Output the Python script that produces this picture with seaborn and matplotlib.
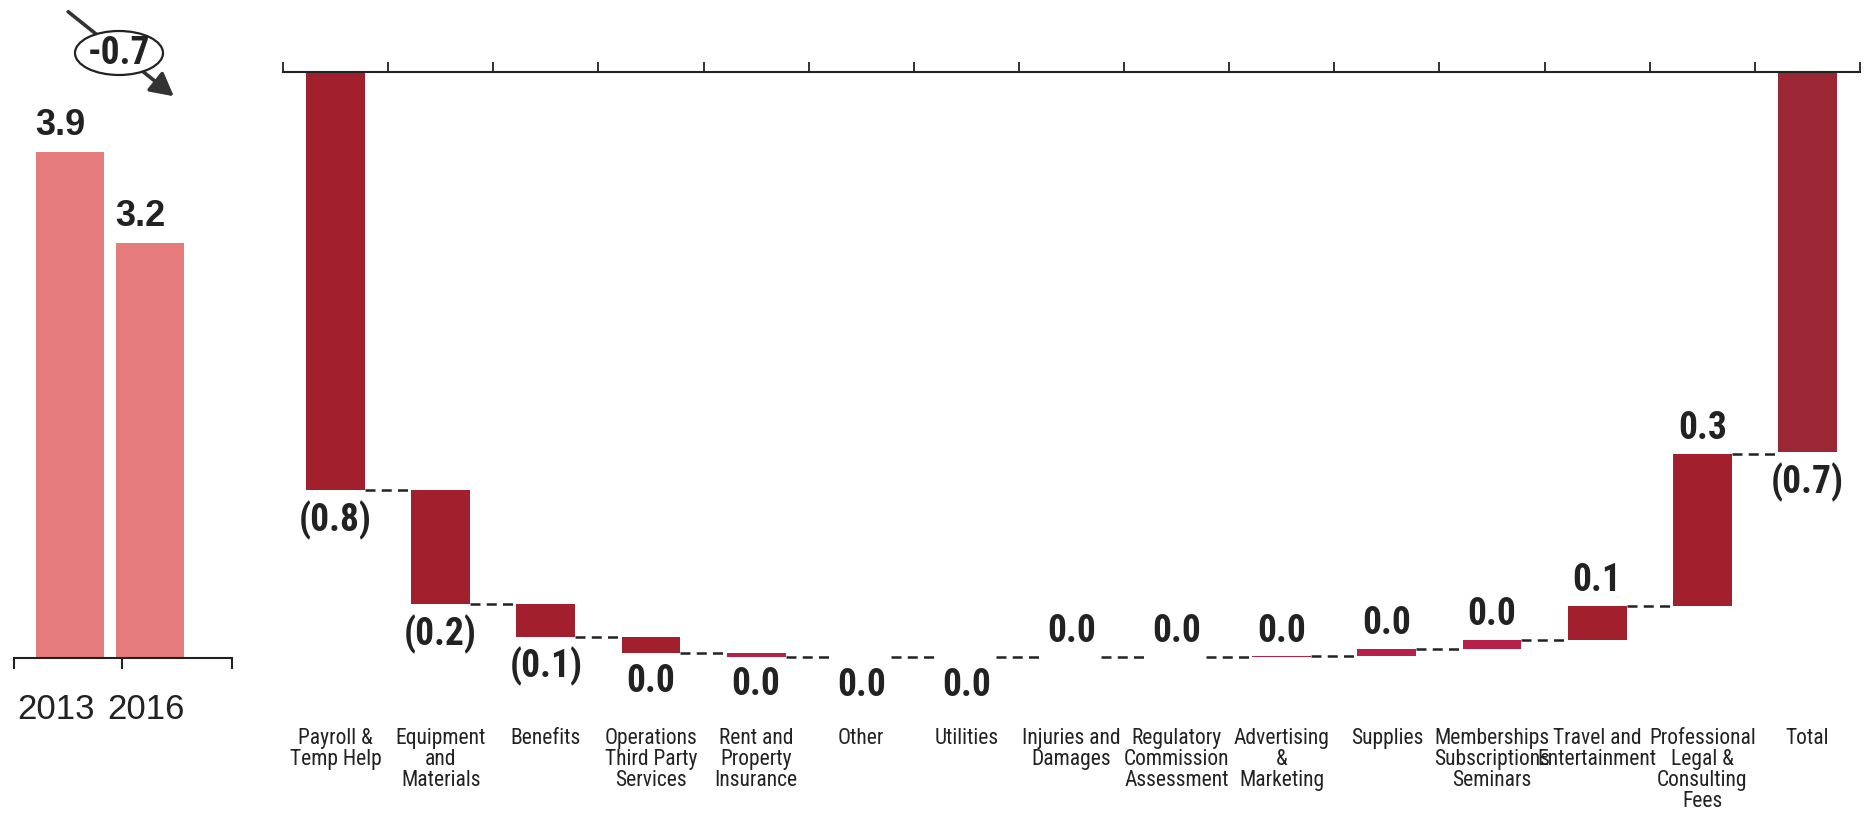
import numpy as np
import matplotlib
matplotlib.use("Agg")
import matplotlib.pyplot as plt
from matplotlib import font_manager
from matplotlib.patches import Ellipse, FancyArrowPatch
from matplotlib.transforms import ScaledTranslation
import seaborn as sns

# left panel: totals by year
years = ["2013", "2016"]
year_totals = [3.9, 3.2]
year_change = -0.7

# right panel: waterfall of changes by category
categories = ["Payroll &\nTemp Help", "Equipment\nand\nMaterials", "Benefits",
              "Operations\nThird Party\nServices", "Rent and\nProperty\nInsurance",
              "Other", "Utilities", "Injuries and\nDamages",
              "Regulatory\nCommission\nAssessment", "Advertising\n&\nMarketing",
              "Supplies", "Memberships\nSubscriptions\nSeminars",
              "Travel and\nEntertainment", "Professional\nLegal &\nConsulting\nFees",
              "Total"]
changes = [-0.77, -0.21, -0.06, -0.03, -0.006, -0.0003, -0.0003,
           0.0003, 0.0003, 0.0003, 0.013, 0.017, 0.063, 0.28]
total_change = -0.70
value_labels = ["(0.8)", "(0.2)", "(0.1)", "0.0", "0.0", "0.0", "0.0",
                "0.0", "0.0", "0.0", "0.0", "0.0", "0.1", "0.3", "(0.7)"]

dark = "#A21F2D"
pink = "#B52149"
tot_col = "#9A2733"
bar_colors = [dark, dark, dark, dark, pink, pink, pink, pink, pink, pink,
              pink, pink, dark, dark, tot_col]
ink = "#222222"

sns.set_style("white")
plt.rcParams["font.family"] = ["Liberation Sans", "DejaVu Sans"]


# look for a narrow face (the original uses Arial Narrow)
def find_narrow(bold):
    prefs = ["Liberation Sans Narrow", "Arial Narrow", "Roboto Condensed",
             "Noto Sans", "Open Sans", "DejaVu Sans"]
    for stretch in ("condensed", "semi-condensed"):
        for name in prefs:
            for f in font_manager.fontManager.ttflist:
                if f.name != name or f.style != "normal":
                    continue
                is_narrow = ("Narrow" in f.name or "Condensed" in f.name
                             or f.stretch == stretch)
                if not is_narrow:
                    continue
                w = f.weight if isinstance(f.weight, (int, float)) else \
                    font_manager.weight_dict.get(f.weight, 400)
                if (w >= 600) == bold and (w <= 700 or not bold) and (w >= 400 or bold):
                    return font_manager.FontProperties(fname=f.fname)
    return None


nar_reg = find_narrow(False)
nar_bold = find_narrow(True)
if nar_reg is None:
    nar_reg = font_manager.FontProperties(family="Liberation Sans")
    cat_size = 12.5
else:
    cat_size = 15.5
if nar_bold is None:
    nar_bold = font_manager.FontProperties(family="Liberation Sans", weight="bold")
    val_size = 24
else:
    val_size = 27

fig = plt.figure(figsize=(18.72, 8.19), dpi=100)

# ---------- left panel ----------
axl = fig.add_axes([14 / 1872, 161 / 819, 218 / 1872, 618 / 819])
sns.barplot(x=years, y=year_totals, color="#E57B7A", saturation=1, width=0.85,
            linewidth=0, ax=axl)
axl.set_xlim(-0.7, 2.03)
axl.set_ylim(0, 4.76)
for s in ["top", "left", "right"]:
    axl.spines[s].set_visible(False)
axl.spines["bottom"].set_color(ink)
axl.spines["bottom"].set_linewidth(1.5)
axl.set_yticks([])
axl.set_xlabel("")
axl.tick_params(axis="x", which="major", length=0, pad=25, labelsize=25,
                labelcolor=ink)
for tl, dx in zip(axl.get_xticklabels(), [-14, -4]):
    tl.set_transform(tl.get_transform() + ScaledTranslation(dx / 100, 0, fig.dpi_scale_trans))
axl.set_xticks([-0.7, 0.65, 2.03], minor=True)
axl.tick_params(axis="x", which="minor", bottom=True, length=8, width=1.5,
                color=ink, direction="out")
for i, v in enumerate(year_totals):
    axl.annotate(f"{v:.1f}", (i, v), xytext=(-7, 6), textcoords="offset points",
                 ha="center", va="bottom", fontsize=26, fontweight="bold", color=ink)

# arrow with change bubble
fig.add_artist(FancyArrowPatch(
    (66 / 1872, 1 - 10 / 819), (176 / 1872, 1 - 98 / 819),
    transform=fig.transFigure, arrowstyle="-|>,head_length=1.4,head_width=0.75",
    mutation_scale=10, lw=2.6, color="#333333", zorder=2))
fig.add_artist(Ellipse((119 / 1872, 1 - 53 / 819), 88 / 1872, 44 / 819,
                       transform=fig.transFigure, fc="white", ec=ink, lw=1.6,
                       zorder=3))
fig.text(119 / 1872, 1 - 53 / 819, f"{year_change:.1f}", ha="center", va="center",
         fontproperties=nar_bold, fontsize=val_size, color=ink, zorder=4)

# ---------- right panel: waterfall ----------
starts = [0.0]
for c in changes[:-1]:
    starts.append(starts[-1] + c)
heights = changes + [total_change]
bottoms = starts + [0.0]

axr = fig.add_axes([283 / 1872, 1 - 724 / 819, (1860 - 283) / 1872, (724 - 72) / 819])
bw = 0.56
sns.barplot(x=categories, y=heights, bottom=bottoms, color=dark, saturation=1,
            width=bw, ax=axr, linewidth=0)
for p, c in zip(axr.patches, bar_colors):
    p.set_facecolor(c)

n = len(categories)
axr.set_xlim(-0.5, n - 0.5)
axr.set_ylim(-1.2, 0)
for s in ["bottom", "left", "right"]:
    axr.spines[s].set_visible(False)
axr.spines["top"].set_color(ink)
axr.spines["top"].set_linewidth(1.5)
axr.set_yticks([])
axr.set_xlabel("")
axr.tick_params(axis="x", which="major", length=0, pad=3, labelcolor=ink)
for lab in axr.get_xticklabels():
    lab.set_fontproperties(nar_reg)
    lab.set_fontsize(cat_size)
    lab.set_linespacing(1.0)
    lab.set_verticalalignment("top")
axr.set_xticks(np.arange(-0.5, n, 1.0), minor=True)
axr.tick_params(axis="x", which="minor", bottom=False, top=True, length=7,
                width=1.3, color=ink, direction="out")

# connectors between bars
ends = [b + h for b, h in zip(bottoms, heights)]
for i in range(n - 1):
    axr.plot([i + bw / 2, i + 1 - bw / 2], [ends[i], ends[i]], color=ink, lw=1.8,
             linestyle=(0, (4, 2.5)), zorder=1)

# value labels
for i, (b, h, lab) in enumerate(zip(bottoms, heights, value_labels)):
    below = h < 0
    axr.annotate(lab, (i, b + h), xytext=(0, -7 if below else 5),
                 textcoords="offset points", ha="center",
                 va="top" if below else "bottom", fontproperties=nar_bold,
                 fontsize=val_size, color=ink)

fig.savefig("out.png", dpi=100)
